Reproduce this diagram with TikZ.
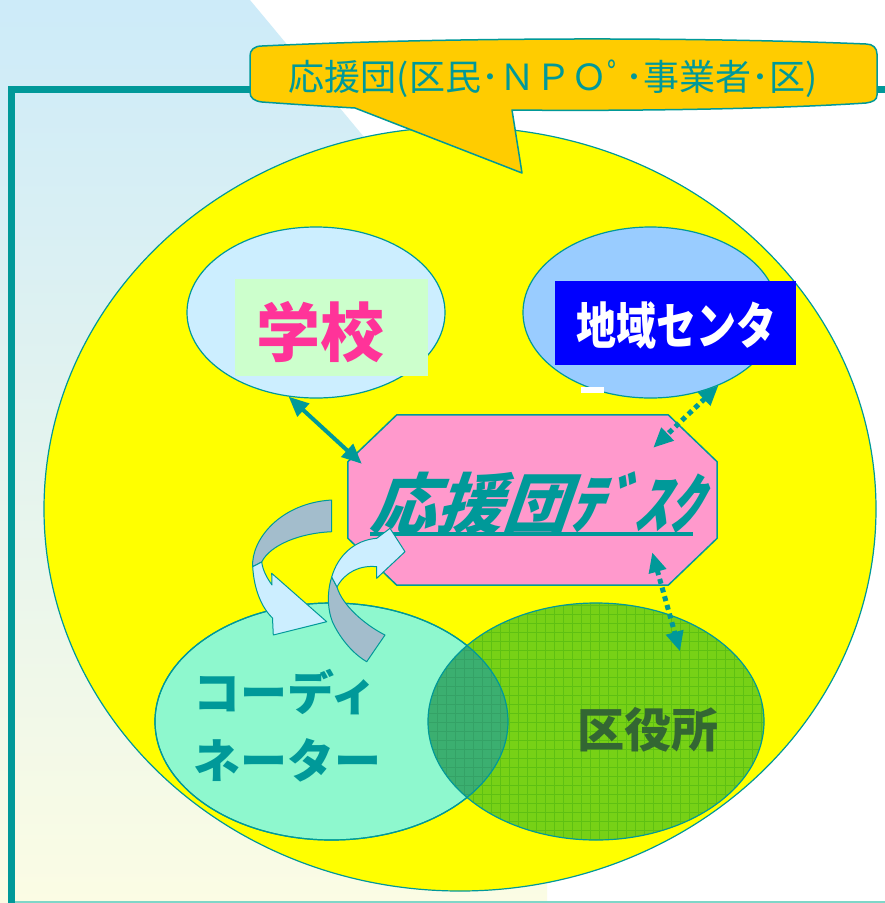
\documentclass[tikz,border=0pt]{standalone}
\usepackage{fontspec}
\usepackage{graphicx}
\usetikzlibrary{shapes.geometric,arrows.meta,calc}
\newfontfamily\cjk{Noto Sans CJK JP}
\newfontfamily\cjksl{Noto Sans CJK JP}[FakeSlant=0.35]
\definecolor{tealc}{HTML}{009999}
\definecolor{yel}{RGB}{255,255,0}
\definecolor{bgblue}{HTML}{CDEBF9}
\definecolor{bgcream}{HTML}{FBFCE4}
\definecolor{calloutc}{HTML}{FFCC00}
\definecolor{schoolc}{HTML}{CCEEFF}
\definecolor{greenbox}{HTML}{CCFFCC}
\definecolor{pinktext}{HTML}{FF3399}
\definecolor{satc}{HTML}{99CCFF}
\definecolor{bluebox}{RGB}{0,0,255}
\definecolor{deskc}{HTML}{FF99CC}
\definecolor{coordc}{HTML}{8EF8CE}
\definecolor{wardc}{HTML}{77D116}
\definecolor{overlapc}{HTML}{3BAF70}
\definecolor{gridc}{HTML}{5EC012}
\definecolor{gridov}{HTML}{34A266}
\definecolor{wardtext}{HTML}{336633}
\definecolor{backarrow}{HTML}{A3BDCC}
\definecolor{framelight}{HTML}{7FD6C8}
\begin{document}
\begin{tikzpicture}[x=1pt,y=-1pt,
  blob/.style={ellipse, draw=tealc, line width=1.2pt, inner sep=0pt},
  conn/.style={draw=tealc, line width=4pt,
    {Triangle[length=20pt,width=17pt]}-{Triangle[length=20pt,width=17pt]}},
  dotconn/.style={conn, line width=5pt, dash pattern=on 5pt off 4pt},
  bandback/.style={fill=backarrow, draw=tealc, line width=1pt, line join=round},
  bandfront/.style={fill=schoolc, draw=tealc, line width=1pt, line join=round},
  cjklabel/.style={inner sep=0pt}]
\useasboundingbox (0,0) rectangle (885,903);
% background
\fill[white] (0,0) rectangle (885,903);
\shade[top color=bgblue, bottom color=bgcream] (0,0) -- (250,0) -- (547,357) -- (547,903) -- (0,903) -- cycle;
% frame
\draw[framelight, line width=3pt] (8,902) -- (885,902);
\draw[tealc, line width=6.5pt] (11.5,903) -- (11.5,89.5) -- (885,89.5);
% big yellow circle
\node[blob, fill=yel, minimum width=832pt, minimum height=764pt] (group) at (460,509) {};
% callout
\draw[fill=calloutc, draw=tealc, line width=1.5pt, line join=round]
  (262,46) .. controls (450,37) and (700,37) .. (866,44)
  .. controls (873,44) and (877,48) .. (877,54)
  -- (877,95)
  .. controls (877,100) and (873,102) .. (866,103)
  .. controls (760,110) and (600,111) .. (512,110)
  -- (522,173) -- (355,108)
  .. controls (320,106) and (290,104) .. (262,102)
  .. controls (254,101) and (250,98) .. (250,92)
  -- (250,56) .. controls (250,50) and (254,46) .. (262,46) -- cycle;
\node[cjklabel, text=tealc, font=\cjk\fontsize{36}{36}\selectfont] (callout) at (553,79) {応援団(区民･ＮＰＯﾟ･事業者･区)};
% school
\node[blob, fill=schoolc, minimum width=258pt, minimum height=171pt] (school) at (316,312.5) {};
\node[fill=greenbox, minimum width=193pt, minimum height=97pt, inner sep=0pt] (schoolbox) at (331.5,327.5) {};
\node[cjklabel, text=pinktext, font=\cjk\bfseries\fontsize{64}{64}\selectfont] (schooltext) at (320,332) {学校};
% community center
\node[blob, fill=satc, minimum width=255pt, minimum height=171pt] (sat) at (650.5,312.5) {};
\node[fill=bluebox, minimum width=241pt, minimum height=84pt, inner sep=0pt] (satbox) at (675.5,323) {};
\node[cjklabel, text=white, font=\cjk\bfseries\fontsize{40}{40}\selectfont] (sattext) at (676,325) {\scalebox{1}[1.25]{地域センタ}};
\fill[white] (581,387) rectangle (604,393);
% desk
\node[minimum width=369pt, minimum height=170pt, inner sep=0pt] (desk) at (532.5,500) {};
\draw[fill=deskc, draw=tealc, line width=1.5pt, line join=round]
  ($(desk.north west)+(49,0)$) -- ($(desk.north east)+(-49,0)$)
  -- ($(desk.north east)+(0,47)$) -- ($(desk.south east)+(0,-47)$)
  -- ($(desk.south east)+(-49,0)$) -- ($(desk.south west)+(49,0)$)
  -- ($(desk.south west)+(0,-47)$) -- ($(desk.north west)+(0,47)$) -- cycle;
\node[cjklabel, text=tealc, font=\cjksl\bfseries\fontsize{66}{66}\selectfont] (desktext) at (534,503) {応援団ﾃﾞｽｸ};
\draw[tealc, line width=3.5pt] (370,534) -- (693,534);
% coordinator and ward office
\node[blob, fill=coordc, minimum width=353pt, minimum height=237pt] (coord) at (331.5,721.5) {};
\fill[wardc] (596,721.5) ellipse [x radius=168, y radius=118.5];
\begin{scope}
  \clip (331.5,721.5) ellipse [x radius=176.5, y radius=118.5];
  \fill[overlapc] (596,721.5) ellipse [x radius=168, y radius=118.5];
\end{scope}
\begin{scope}
  \clip (596,721.5) ellipse [x radius=168, y radius=118.5];
  \foreach \gx in {428,437,...,770} {\draw[gridc, line width=0.7pt] (\gx,600) -- (\gx,845);}
  \foreach \gy in {605,614,...,845} {\draw[gridc, line width=0.7pt] (420,\gy) -- (770,\gy);}
  \clip (331.5,721.5) ellipse [x radius=176.5, y radius=118.5];
  \foreach \gx in {428,437,...,770} {\draw[gridov, line width=0.7pt] (\gx,600) -- (\gx,845);}
  \foreach \gy in {605,614,...,845} {\draw[gridov, line width=0.7pt] (420,\gy) -- (770,\gy);}
\end{scope}
\node[blob, minimum width=336pt, minimum height=237pt] (ward) at (596,721.5) {};
\draw[tealc, line width=1.2pt] (331.5,721.5) ellipse [x radius=176.5, y radius=118.5];
\node[cjklabel, anchor=west, align=left, text=tealc, font=\cjk\bfseries\fontsize{47}{68}\selectfont] (coordtext) at (193,726) {コーディ\\ネーター};
\node[cjklabel, text=wardtext, font=\cjk\bfseries\fontsize{47}{47}\selectfont] (wardtext) at (648,730) {区役所};
% curved arrows
\draw[bandback] (331.7,500) -- (331.7,531.7) .. controls (300,533) and (270,545) .. (261.7,562)
  -- (252.7,566.7) .. controls (251,540) and (280,503) .. (331.7,500) -- cycle;
\draw[bandfront] (252.7,566.7) .. controls (254,590) and (262,608) .. (272.5,618)
  -- (273.3,635) -- (326.7,621.7) -- (271.7,573.3) -- (272,585)
  .. controls (267,578) and (263,571) .. (261.7,562) -- cycle;
\draw[bandback] (366.7,661.7) -- (385,635) .. controls (365,625) and (342,605) .. (337,587)
  -- (331.7,577) .. controls (326,595) and (328,615) .. (335,627)
  .. controls (343,642) and (355,655) .. (366.7,661.7) -- cycle;
\draw[bandfront] (331.7,577) .. controls (338,555) and (355,540) .. (376.7,538.3)
  -- (390,528.3) -- (405,551.7) -- (376.7,578.3) -- (376.7,566.7)
  .. controls (360,565) and (345,572) .. (337,587) -- cycle;
% connectors
\draw[conn] (school.252) -- ($(desk.north west)+(14,49)$);
\draw[dotconn] (sat.313) -- ($(desk.north east)+(-64,33)$);
\draw[dotconn] ($(desk.south east)+(-65,-33)$) -- ($(ward.center)+(84,-70)$);
\end{tikzpicture}
\end{document}
